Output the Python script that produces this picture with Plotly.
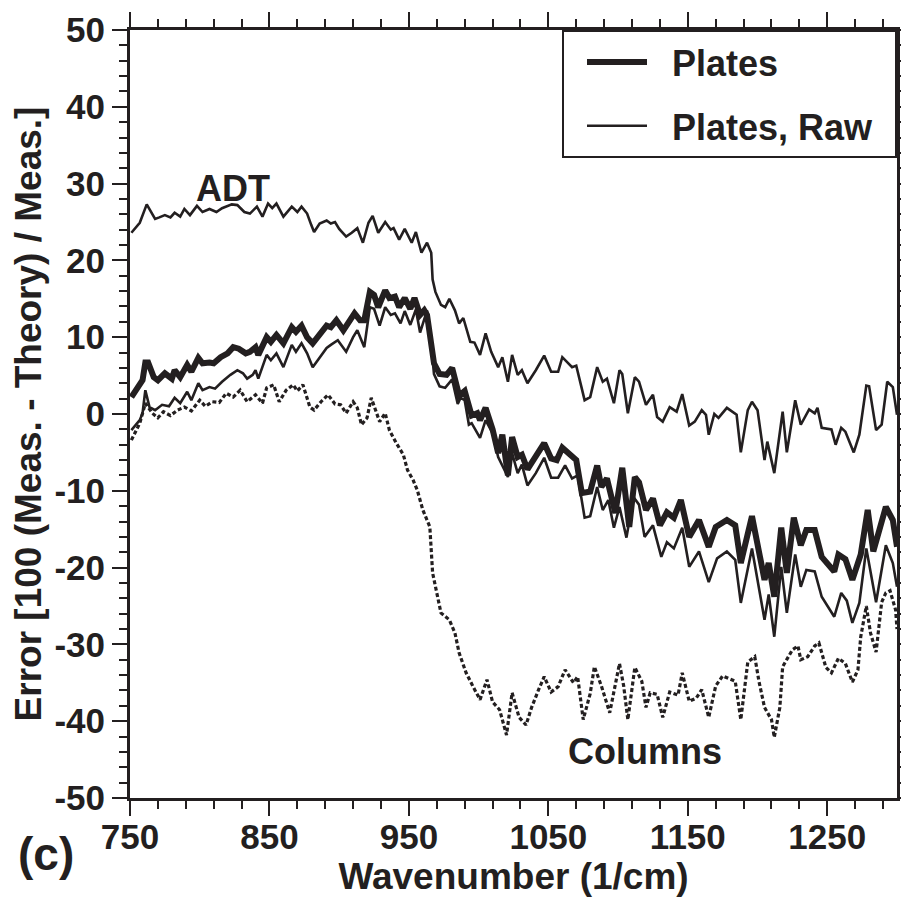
import plotly.graph_objects as go

# ---------------- data ----------------
adt_wn = [751, 757, 762, 768, 771, 775, 779, 782, 786, 789, 793, 798, 802, 807, 812, 816, 823, 827, 832, 836,
          841, 845, 849, 852, 855, 860, 866, 870, 873, 877, 880, 882, 886, 891, 894, 897, 900, 905, 909, 913,
          917, 921, 924, 928, 933, 937, 939, 943, 947, 952, 955, 959, 963, 966, 967, 969, 973, 976, 979, 983,
          986, 989, 994, 997, 1001, 1005, 1009, 1014, 1017, 1021, 1024, 1028, 1031, 1035, 1041, 1047, 1052, 1057, 1060, 1067,
          1070, 1076, 1080, 1085, 1089, 1092, 1097, 1101, 1103, 1107, 1112, 1115, 1120, 1125, 1128, 1132, 1137, 1142, 1146, 1151,
          1155, 1160, 1163, 1165, 1169, 1172, 1178, 1185, 1188, 1193, 1196, 1200, 1205, 1207, 1212, 1218, 1221, 1227, 1231, 1237,
          1241, 1243, 1246, 1253, 1256, 1260, 1263, 1269, 1273, 1278, 1280, 1285, 1289, 1293, 1297, 1300]
adt_err = [23.6, 24.9, 27.3, 25.4, 25.6, 25.9, 25.6, 26.2, 25.7, 26.7, 25.9, 27.1, 26.3, 26.7, 26.3, 26.8, 27.3, 27.2, 26.3, 26.1,
           27.0, 25.7, 27.4, 26.8, 27.4, 25.7, 27.0, 26.3, 27.0, 26.1, 24.6, 23.7, 24.8, 25.2, 24.8, 25.0, 24.1, 23.1, 23.6, 24.2,
           22.3, 24.9, 25.8, 23.6, 25.0, 24.0, 24.2, 22.7, 24.1, 22.3, 23.7, 21.0, 22.3, 21.0, 17.5, 15.9, 14.2, 13.9, 15.0, 13.5,
           11.8, 12.5, 9.4, 9.3, 7.7, 10.5, 8.1, 6.1, 7.4, 4.2, 7.7, 5.1, 5.7, 4.0, 5.7, 7.6, 5.5, 5.5, 7.4, 6.1,
           6.3, 1.8, 2.2, 6.1, 4.2, 4.6, 1.4, 5.7, 5.2, 0.1, 4.8, 4.2, 1.2, 2.5, -0.4, -1.0, 0.9, 0.3, 2.6, -1.5,
           -1.0, 0.5, -0.1, -2.7, 0.0, -0.5, 0.8, -0.1, -5.0, 0.5, 1.6, 0.5, -6.0, -3.6, -7.7, 0.3, -5.0, 1.8, -1.4, 0.6,
           0.1, 0.8, -1.8, -2.0, -4.0, -1.8, -2.3, -5.0, -2.7, 3.7, 3.6, -2.1, -1.4, 4.2, 3.5, -0.1]

plates_wn = [751, 756, 759, 761, 763, 767, 770, 775, 780, 782, 786, 791, 794, 799, 802, 807, 810, 815, 820, 824,
             828, 833, 836, 840, 842, 848, 851, 855, 860, 866, 869, 873, 877, 881, 886, 891, 894, 898, 903, 908,
             911, 915, 918, 922, 925, 928, 933, 936, 940, 943, 947, 951, 954, 958, 961, 963, 966, 968, 972, 977,
             981, 984, 986, 990, 995, 999, 1001, 1005, 1010, 1014, 1017, 1021, 1024, 1028, 1031, 1035, 1041, 1047, 1052, 1056,
             1060, 1066, 1070, 1074, 1080, 1085, 1088, 1092, 1098, 1103, 1108, 1112, 1115, 1120, 1125, 1130, 1135, 1140, 1145, 1151,
             1158, 1165, 1170, 1178, 1184, 1188, 1196, 1205, 1208, 1212, 1217, 1221, 1226, 1231, 1235, 1241, 1246, 1255, 1258, 1263,
             1268, 1274, 1279, 1283, 1292, 1297, 1300]
plates_err = [2.2, 3.5, 4.4, 6.7, 6.7, 4.8, 4.4, 5.3, 4.6, 5.7, 4.8, 6.4, 5.5, 7.3, 6.6, 6.7, 6.6, 7.4, 7.9, 8.7,
              8.5, 7.9, 8.1, 8.7, 7.7, 10.0, 9.4, 10.3, 9.2, 11.3, 10.7, 11.5, 10.0, 9.2, 10.5, 11.5, 11.3, 12.2, 10.9, 12.2,
              13.1, 12.2, 12.2, 15.9, 15.5, 13.9, 16.1, 15.1, 15.3, 13.9, 15.1, 13.7, 15.1, 12.9, 13.5, 12.9, 9.6, 6.6, 5.2, 5.1,
              6.0, 4.2, 2.4, 3.0, -0.2, 0.1, -0.8, 0.8, -2.0, -5.1, -2.7, -8.0, -3.0, -5.6, -5.3, -7.2, -5.6, -3.8, -5.8, -6.0,
              -4.4, -5.3, -6.0, -10.3, -10.1, -6.7, -9.5, -8.4, -12.9, -7.0, -14.7, -8.2, -8.9, -12.5, -11.0, -14.5, -12.8, -13.5, -11.2, -16.0,
              -13.8, -17.3, -14.7, -13.8, -14.5, -19.4, -13.3, -21.6, -19.4, -23.8, -14.8, -20.7, -13.5, -17.1, -15.1, -15.1, -18.6, -20.5, -18.3, -18.9,
              -21.6, -18.3, -12.5, -17.9, -12.1, -13.8, -17.3]

raw_wn = [751, 757, 759, 761, 764, 768, 773, 778, 782, 786, 791, 794, 799, 802, 807, 811, 816, 822, 827, 831,
          834, 838, 840, 842, 848, 851, 855, 860, 866, 869, 873, 877, 881, 886, 891, 894, 899, 905, 910, 913,
          918, 922, 925, 929, 933, 937, 940, 944, 947, 951, 955, 958, 963, 966, 968, 972, 976, 981, 985, 987,
          990, 993, 995, 1001, 1005, 1010, 1014, 1021, 1024, 1028, 1031, 1035, 1041, 1047, 1052, 1057, 1062, 1067, 1071, 1076,
          1080, 1085, 1089, 1093, 1097, 1101, 1106, 1111, 1115, 1119, 1125, 1131, 1135, 1140, 1146, 1151, 1158, 1165, 1171, 1178,
          1184, 1188, 1196, 1205, 1208, 1212, 1217, 1221, 1227, 1231, 1235, 1241, 1246, 1255, 1260, 1264, 1268, 1273, 1278, 1285,
          1292, 1297, 1300]
raw_err = [-2.1, -0.8, 0.1, 3.1, 0.9, 0.5, 1.2, 1.0, 2.1, 1.4, 2.9, 1.8, 4.0, 3.1, 3.5, 3.3, 4.2, 5.1, 5.7, 5.3,
           4.6, 5.1, 5.7, 4.6, 7.7, 7.0, 7.9, 6.1, 9.0, 8.1, 9.2, 7.9, 6.1, 7.3, 8.6, 9.0, 9.6, 8.1, 10.0, 10.9,
           8.7, 13.9, 13.7, 11.5, 13.9, 12.9, 13.1, 11.8, 13.4, 11.6, 13.6, 10.6, 13.5, 9.0, 5.2, 3.6, 3.4, 4.5, 1.3, 2.1,
           1.8, -1.4, -1.2, -3.1, -0.8, -2.5, -5.6, -8.2, -5.1, -7.7, -6.6, -9.3, -7.7, -5.7, -8.3, -8.3, -6.7, -8.4, -8.0, -13.5,
           -13.3, -9.5, -12.5, -11.2, -14.8, -12.1, -16.1, -10.8, -11.8, -16.0, -14.5, -18.6, -16.7, -17.5, -14.8, -19.9, -17.9, -21.9, -18.8, -17.9,
           -19.0, -24.6, -17.5, -26.8, -23.5, -29.0, -19.9, -25.9, -18.3, -22.5, -20.3, -20.5, -23.8, -26.4, -23.3, -24.3, -27.2, -24.6, -17.5, -24.5,
           -17.1, -19.4, -22.5]

columns_wn = [751, 757, 761, 766, 770, 774, 779, 784, 789, 794, 800, 804, 809, 814, 819, 824, 829, 834, 840, 845,
              848, 853, 857, 862, 867, 870, 874, 879, 882, 887, 892, 897, 901, 905, 910, 913, 916, 920, 923, 926,
              929, 933, 936, 941, 946, 949, 953, 956, 960, 965, 966, 967, 970, 973, 979, 983, 986, 991, 996, 1001,
              1006, 1010, 1015, 1020, 1024, 1029, 1034, 1038, 1043, 1047, 1052, 1057, 1062, 1068, 1071, 1075, 1080, 1083, 1088, 1094,
              1101, 1104, 1107, 1112, 1117, 1120, 1123, 1128, 1132, 1137, 1143, 1146, 1151, 1156, 1160, 1165, 1170, 1175, 1180, 1184,
              1188, 1193, 1198, 1201, 1205, 1210, 1212, 1216, 1218, 1225, 1229, 1231, 1236, 1241, 1244, 1249, 1253, 1258, 1263, 1268,
              1272, 1274, 1278, 1281, 1285, 1289, 1292, 1295, 1299, 1300]
columns_err = [-3.4, -1.2, 1.4, 0.1, -0.5, 0.3, -0.2, 0.5, 0.9, 0.4, 1.8, 1.0, 1.6, 1.5, 2.7, 2.2, 3.1, 1.6, 2.5, 1.4,
               3.4, 3.8, 1.6, 3.1, 3.8, 3.0, 3.8, 0.9, 0.5, 1.6, 2.5, 1.3, 1.2, 0.1, 1.6, 0.8, -1.4, -0.5, 2.1, 0.5,
               -1.0, 0.1, -2.1, -3.8, -5.3, -7.3, -8.6, -9.9, -12.5, -14.7, -17.7, -20.7, -23.3, -25.9, -26.8, -28.5, -31.1, -33.7, -35.5, -37.2,
               -34.6, -37.5, -38.5, -41.8, -36.3, -39.5, -40.5, -38.2, -35.9, -34.2, -36.2, -35.5, -33.3, -35.0, -34.2, -39.8, -36.4, -32.9, -35.4, -38.9,
               -32.5, -35.4, -39.8, -33.0, -34.8, -38.2, -36.3, -36.5, -39.5, -36.2, -36.6, -33.7, -37.4, -37.0, -35.9, -39.5, -35.4, -34.1, -34.5, -34.8,
               -39.8, -32.3, -31.6, -34.8, -38.2, -39.8, -42.1, -38.2, -32.9, -30.7, -30.2, -32.0, -31.6, -30.2, -29.8, -33.0, -33.7, -31.8, -32.5, -34.9,
               -33.3, -29.0, -25.0, -28.5, -31.0, -24.5, -23.3, -23.0, -25.5, -28.0]

x_ticks = [750, 850, 950, 1050, 1150, 1250]
y_ticks = [-50, -40, -30, -20, -10, 0, 10, 20, 30, 40, 50]

FONT = "Liberation Sans, Arial, Helvetica, sans-serif"
INK = "#231f20"
NB = "\u00a0"

fig = go.Figure()
fig.add_trace(go.Scatter(x=adt_wn, y=adt_err, mode="lines", name="ADT", showlegend=False,
                         line=dict(color=INK, width=2.6)))
fig.add_trace(go.Scatter(x=columns_wn, y=columns_err, mode="lines", name="Columns", showlegend=False,
                         line=dict(color=INK, width=3.2, dash="4px,2.5px")))
fig.add_trace(go.Scatter(x=raw_wn, y=raw_err, mode="lines", name=NB + NB + "Plates, Raw" + NB + "\u2009",
                         legendgroup="b", legendrank=2, line=dict(color=INK, width=2.6)))
fig.add_trace(go.Scatter(x=plates_wn, y=plates_err, mode="lines", name=NB + NB + "Plates",
                         legendgroup="a", legendrank=1, line=dict(color=INK, width=6)))

axis_common = dict(
    showgrid=False, zeroline=False, showline=True, linecolor=INK, linewidth=3,
    mirror="ticks", ticks="outside", tickcolor=INK, tickwidth=1.5, ticklen=15,
    tickfont=dict(family=FONT, size=35, color=INK, weight="bold"),
    automargin=False,
)

fig.update_xaxes(range=[750, 1300], tickvals=x_ticks, ticktext=[str(v) for v in x_ticks],
                 ticklabelstandoff=-9,
                 minor=dict(dtick=20, tick0=750, ticklen=8, tickwidth=1.5, tickcolor=INK, ticks="outside"),
                 title=dict(text="Wavenumber (1/cm)", standoff=8,
                            font=dict(family=FONT, size=37, color=INK, weight="bold")),
                 **axis_common)
fig.update_yaxes(range=[-50, 50], tickvals=y_ticks, ticktext=[str(v) for v in y_ticks],
                 minor=dict(dtick=2, tick0=0, ticklen=8, tickwidth=1.5, tickcolor=INK, ticks="outside"),
                 title=dict(text="Error [100 (Meas. - Theory) / Meas.]", standoff=2,
                            font=dict(family=FONT, size=37, color=INK, weight="bold")),
                 **axis_common)

fig.add_annotation(x=824, y=29.4, xref="x", yref="y", text="ADT", showarrow=False,
                   xanchor="center", yanchor="middle",
                   font=dict(family=FONT, size=36, color=INK, weight="bold"))
fig.add_annotation(x=1119, y=-44, xref="x", yref="y", text="Columns", showarrow=False,
                   xanchor="center", yanchor="middle",
                   font=dict(family=FONT, size=36, color=INK, weight="bold"))
fig.add_annotation(x=-0.148, y=-0.073, xref="paper", yref="paper", text="(c)", showarrow=False,
                   xanchor="left", yanchor="middle",
                   font=dict(family=FONT, size=46, color=INK, weight="bold"))

fig.update_layout(
    width=901, height=902,
    margin=dict(l=130, r=4, t=30, b=104, autoexpand=False),
    paper_bgcolor="white", plot_bgcolor="white",
    showlegend=True,
    legend=dict(x=1, y=1, xanchor="right", yanchor="top",
                bordercolor=INK, borderwidth=2, bgcolor="white",
                font=dict(family=FONT, size=36, color=INK, weight="bold"),
                itemwidth=60, indentation=18, tracegroupgap=14,
                traceorder="grouped"),
)

fig.write_html("out.html")
